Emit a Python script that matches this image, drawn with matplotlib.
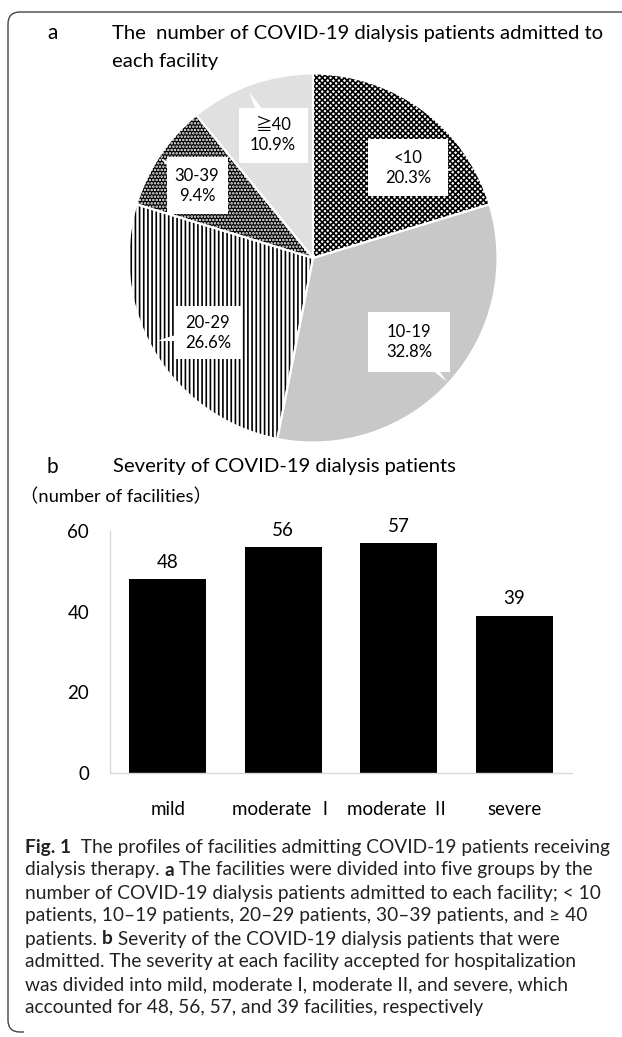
import numpy as np
import matplotlib
matplotlib.use("Agg")
import matplotlib.pyplot as plt
from matplotlib.patches import Rectangle, Polygon
from matplotlib.path import Path
from matplotlib.patches import PathPatch

plt.rcParams['font.family'] = ['Lato', 'Noto Sans CJK JP', 'DejaVu Sans']
plt.rcParams['hatch.linewidth'] = 1.2

# panel a: share of facilities by number of admitted patients
pie_labels = ["<10", "10-19", "20-29", "30-39", "\u226740"]
pie_shares = [20.3, 32.8, 26.6, 9.4, 10.9]

# panel b: severity accepted, number of facilities
bar_cats = ["mild", "moderate \u2160", "moderate \u2161", "severe"]
bar_vals = [48, 56, 57, 39]
y_ticks = [0, 20, 40, 60]

caption = [
    [("Fig. 1", "bold"), ("  The profiles of facilities admitting COVID-19 patients receiving", "normal")],
    [("dialysis therapy. ", "normal"), ("a", "bold"), (" The facilities were divided into five groups by the", "normal")],
    [("number of COVID-19 dialysis patients admitted to each facility; < 10", "normal")],
    [("patients, 10\u201319 patients, 20\u201329 patients, 30\u201339 patients, and \u2265 40", "normal")],
    [("patients. ", "normal"), ("b", "bold"), (" Severity of the COVID-19 dialysis patients that were", "normal")],
    [("admitted. The severity at each facility accepted for hospitalization", "normal")],
    [("was divided into mild, moderate I, moderate II, and severe, which", "normal")],
    [("accounted for 48, 56, 57, and 39 facilities, respectively", "normal")],
]

W, H = 622, 1037
fig = plt.figure(figsize=(W / 100, H / 100), dpi=100)


def fx(px):
    return px / W


def fy(py):
    return 1 - py / H


# frame around the figure (open on the right)
r = 12
verts = [(fx(W), fy(12)), (fx(8 + r), fy(12)), (fx(8), fy(12)), (fx(8), fy(12 + r)),
         (fx(8), fy(1032 - r)), (fx(8), fy(1032)), (fx(8 + r), fy(1032)), (fx(24), fy(1032))]
codes = [Path.MOVETO, Path.LINETO, Path.CURVE3, Path.CURVE3, Path.LINETO, Path.CURVE3, Path.CURVE3, Path.LINETO]
fig.patches.append(PathPatch(Path(verts, codes), transform=fig.transFigure, fill=False,
                             edgecolor="#444444", lw=1.0))

# ---- panel a ----
fig.text(fx(47), fy(33), "a", fontsize=15, ha="left", va="center")
fig.text(fx(112), fy(33), "The  number of COVID-19 dialysis patients admitted to", fontsize=14.6, ha="left", va="center")
fig.text(fx(112), fy(62), "each facility", fontsize=14.6, ha="left", va="center")

cx, cy, rad = 313, 258, 184.5
ax_pie = fig.add_axes([fx(cx - rad), fy(cy + rad), 2 * rad / W, 2 * rad / H])
faces = ["white", "#c8c8c8", "white", "black", "#e0e0e0"]
hatch_cols = ["black", "#c8c8c8", "black", "white", "#e0e0e0"]
hatches = ["xxxxxx", None, "||||", ".....", None]
wedges, _ = ax_pie.pie(pie_shares, startangle=90, counterclock=False, colors=faces,
                       wedgeprops=dict(linewidth=0))
for w, hc, h in zip(wedges, hatch_cols, hatches):
    w.set_edgecolor(hc)
    if h:
        w.set_hatch(h)
# white separators on top
ax_pie.pie(pie_shares, startangle=90, counterclock=False,
           wedgeprops=dict(facecolor="none", edgecolor="white", linewidth=1.5))
ax_pie.set_xlim(-1, 1)
ax_pie.set_ylim(-1, 1)
ax_pie.set_aspect("equal")
ax_pie.axis("off")

# callout boxes: (angle offset from mid, radius), box size px, pointer tip (angle offset, radius)
lab_pos = [(-10, 0.71), (1, 0.69), (4.5, 0.70), (2, 0.74), (-1.6, 0.70)]
box_px = [(80, 57), (82, 60), (67, 53), (61, 57), (69, 55)]
tip_pos = [(-21.5, 0.90), (-0.6, 0.99), (-3, 0.96), (0.6, 0.99), (1.4, 0.96)]
for w, lab, sh, (da, lr), (bw, bh), (ta, tr) in zip(wedges, pie_labels, pie_shares, lab_pos, box_px, tip_pos):
    mid = np.deg2rad((w.theta1 + w.theta2) / 2 + da)
    lx, ly = lr * np.cos(mid), lr * np.sin(mid)
    tang = np.deg2rad((w.theta1 + w.theta2) / 2 + ta)
    tx, ty = tr * np.cos(tang), tr * np.sin(tang)
    bw, bh = bw / rad, bh / rad
    d = np.array([tx - lx, ty - ly])
    n = np.array([-d[1], d[0]]) / np.hypot(*d)
    hw = 8 / rad
    ax_pie.add_patch(Polygon([(tx, ty), (lx + n[0] * hw, ly + n[1] * hw), (lx - n[0] * hw, ly - n[1] * hw)],
                             closed=True, facecolor="white", edgecolor="none", zorder=5))
    ax_pie.add_patch(Rectangle((lx - bw / 2, ly - bh / 2), bw, bh, facecolor="white",
                               edgecolor="none", zorder=5))
    ax_pie.text(lx, ly, f"{lab}\n{sh:.1f}%", ha="center", va="center", fontsize=12,
                linespacing=1.3, zorder=6)

# ---- panel b ----
fig.text(fx(47), fy(467), "b", fontsize=15, ha="left", va="center")
fig.text(fx(113), fy(467), "Severity of COVID-19 dialysis patients", fontsize=14.6, ha="left", va="center")
fig.text(fx(20), fy(497), "\uff08number of facilities\uff09", fontsize=13.2, ha="left", va="center")

ax = fig.add_axes([fx(110), fy(773), 462 / W, (773 - 531) / H])
x = np.arange(len(bar_cats))
bars = ax.bar(x, bar_vals, width=0.67, color="black")
ax.bar_label(bars, padding=6, fontsize=13.5)
ax.set_xlim(-0.5, len(bar_cats) - 0.5)
ax.set_ylim(0, 60)
ax.set_yticks(y_ticks)
ax.set_xticks(x)
ax.set_xticklabels(bar_cats)
ax.tick_params(length=0, labelsize=13.5)
ax.tick_params(axis="y", pad=15)
ax.tick_params(axis="x", pad=20)
for s in ["top", "right"]:
    ax.spines[s].set_visible(False)
for s in ["left", "bottom"]:
    ax.spines[s].set_color("#d9d9d9")
    ax.spines[s].set_linewidth(1.0)

# ---- caption ----
fig.canvas.draw()
renderer = fig.canvas.get_renderer()
y0, dy = 847, 23
for i, line in enumerate(caption):
    xpos = 25
    for seg, wt in line:
        t = fig.text(fx(xpos), fy(y0 + i * dy), seg, fontsize=13.8, fontweight=wt,
                     ha="left", va="center", color="#222222")
        xpos += t.get_window_extent(renderer).width

fig.savefig("out.png", dpi=100)
